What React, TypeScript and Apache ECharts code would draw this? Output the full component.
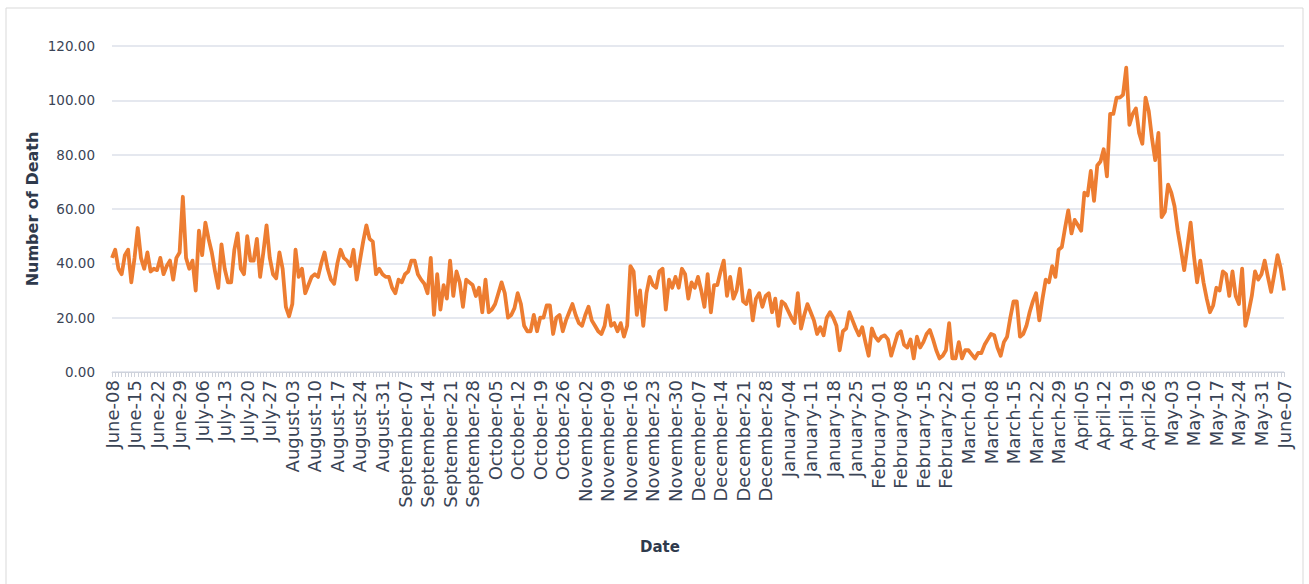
import React, { useEffect, useRef } from "react";
import * as echarts from "echarts";

// Daily number of deaths (June-08 to June-07)
const jun2020 = [42, 45, 38, 36, 43, 45, 33, 42, 53, 42, 38, 44, 37, 38, 37.5, 42, 36, 39, 41, 34, 42, 44, 64.5];
const jul2020 = [42, 38, 41, 30, 52, 43, 55, 49, 44, 37, 31, 47, 38, 33, 33, 45, 51, 38, 36, 50, 41, 41, 49, 35, 44, 54, 42, 36, 34.5, 44, 38];
const aug2020 = [24, 20.5, 25, 45, 35, 38, 29, 32, 35, 36, 35, 40, 44, 38, 34, 32.5, 40, 45, 42, 41, 39, 45, 34, 41, 48, 54, 49, 48, 36, 38, 36];
const sep2020 = [35, 35, 31, 29, 34, 33, 36, 37, 41, 41, 36, 34, 32.5, 29, 42, 21, 36, 23, 32, 27, 41, 28, 37, 33, 24, 34, 33, 32, 28, 31];
const oct2020 = [22, 34, 22, 23, 25, 29, 33, 29, 20, 21, 23.5, 29, 25, 17, 15, 15, 21, 15, 20, 20, 24.5, 24.5, 14, 20, 21, 15, 19, 22, 25, 21, 18];
const nov2020 = [17, 21, 24, 19, 17, 15, 14, 17, 24.5, 17, 18, 15, 18, 13, 17, 39, 37, 21, 30, 17, 29, 35, 32, 31, 37, 38, 23, 34, 31, 35];
const dec2020 = [31, 38, 36, 27, 33, 31, 35, 30, 24, 36, 22, 32, 32, 37, 41, 28, 35, 27, 30, 38, 26, 25, 30, 19, 27, 29, 24, 28, 29, 22, 27];
const jan2021 = [17, 26, 25, 22.5, 20, 18, 29, 16, 21, 25, 22, 19, 14, 16.5, 13.5, 20, 22, 20, 17, 8, 15, 16, 22, 19, 16, 13.5, 16.5, 11, 6, 16, 13];
const feb2021 = [11.5, 13, 13.5, 12, 6, 10, 14, 15, 10, 9, 12, 5, 13, 9, 11, 14, 15.5, 12, 8, 5, 6, 8, 18, 5, 5, 11, 5, 8];
const mar2021 = [8, 6.5, 5, 7, 7, 10, 12, 14, 13.5, 9, 6, 11, 13, 20, 26, 26, 13, 14, 17, 22, 26, 29, 19, 27, 34, 33, 39, 35, 45, 46, 53];
const apr2021 = [59.5, 51, 56, 54, 52, 66, 65, 74, 63, 76, 77.5, 82, 72, 95, 95, 101, 101, 102, 112, 91, 95, 97, 88, 84, 101, 96, 86, 78, 88, 57];
const may2021 = [59, 69, 66, 61, 52, 45, 37.5, 46, 55, 43, 33, 41, 33, 27, 22, 24.5, 31, 30, 37, 36, 28, 37, 28, 25, 38, 17, 22, 28, 37, 34, 36];
const jun2021 = [41, 35, 29.5, 36, 43, 38, 30];

const deaths = [
  ...jun2020, ...jul2020, ...aug2020, ...sep2020, ...oct2020, ...nov2020,
  ...dec2020, ...jan2021, ...feb2021, ...mar2021, ...apr2021, ...may2021, ...jun2021,
];

const monthNames = [
  "January", "February", "March", "April", "May", "June",
  "July", "August", "September", "October", "November", "December",
];
const firstDay = Date.UTC(2020, 5, 8);
const categories = deaths.map((_, i) => {
  const d = new Date(firstDay + i * 86400000);
  return `${monthNames[d.getUTCMonth()]}-${String(d.getUTCDate()).padStart(2, "0")}`;
});

const yMin = 0;
const yMax = 120;
const yStep = 20;

export default function App() {
  const ref = useRef<HTMLDivElement>(null);

  useEffect(() => {
    if (!ref.current) return;
    const chart = echarts.init(ref.current, null, { renderer: "svg" });
    const labelColor = "#3a4456";
    chart.setOption({
      animation: false,
      backgroundColor: "#ffffff",
      grid: { left: 112, right: 25, top: 46, bottom: 212, containLabel: false },
      graphic: [
        {
          type: "rect",
          shape: { x: 6, y: 8, width: 1297, height: 600 },
          style: { fill: "none", stroke: "#d9d9d9", lineWidth: 1 },
          silent: true,
        },
        {
          type: "text",
          x: 660,
          y: 547,
          style: {
            text: "Date",
            fill: "#2f3a4c",
            font: "bold 15px 'DejaVu Sans'",
            textAlign: "center",
            textVerticalAlign: "middle",
          },
        },
      ],
      xAxis: {
        type: "category",
        data: categories,
        boundaryGap: false,
        axisLine: { show: true, lineStyle: { color: "#cfd3dc", width: 1 } },
        axisTick: { show: true, interval: 0, length: 5, lineStyle: { color: "#cfd3dc", width: 1 } },
        axisLabel: {
          interval: 6,
          rotate: 90,
          margin: 8,
          color: labelColor,
          fontFamily: "DejaVu Sans",
          fontSize: 18,
        },
        splitLine: { show: false },
      },
      yAxis: {
        type: "value",
        min: yMin,
        max: yMax,
        interval: yStep,
        name: "Number of Death",
        nameLocation: "middle",
        nameGap: 72,
        nameMoveOverlap: false,
        nameTextStyle: {
          color: "#2f3a4c",
          fontFamily: "DejaVu Sans",
          fontWeight: "bold",
          fontSize: 16,
        },
        axisLine: { show: false },
        axisTick: { show: false },
        axisLabel: {
          margin: 17,
          color: labelColor,
          fontFamily: "DejaVu Sans",
          fontSize: 13.5,
          formatter: (v: number) => v.toFixed(2),
        },
        splitLine: { lineStyle: { color: "#dde1ea", width: 1.5 } },
      },
      series: [
        {
          type: "line",
          data: deaths,
          symbol: "none",
          smooth: false,
          lineStyle: { color: "#ED7D31", width: 3.8, join: "round" },
        },
      ],
    });
    return () => chart.dispose();
  }, []);

  return (
    <div
      ref={ref}
      style={{ position: "absolute", left: 0, top: 0, width: 1309, height: 584 }}
    />
  );
}
